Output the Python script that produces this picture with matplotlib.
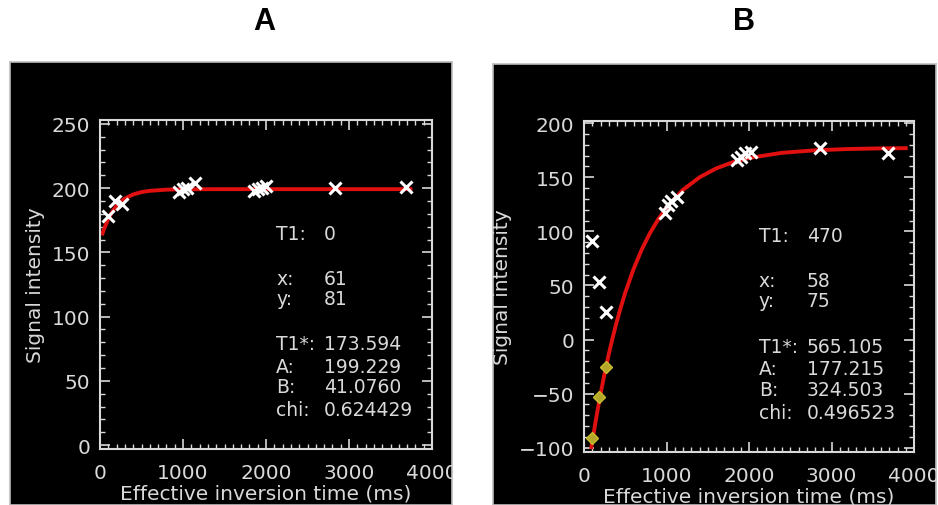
import numpy as np
import matplotlib
matplotlib.use("Agg")
import matplotlib.pyplot as plt
from matplotlib.ticker import MultipleLocator

# ---- panel A : measured points and fitted recovery curve ----
a_pts_t = [100, 180, 260, 950, 1000, 1050, 1150, 1850, 1900, 1950, 2000, 2830, 3690]
a_pts_s = [178, 190, 188, 197, 199, 200, 204, 198, 199, 200, 202, 200, 201]
a_fit_t = [30, 50, 100, 150, 200, 250, 300, 400, 500, 600, 800, 1000, 1500, 2000, 3000, 3740]
a_fit_s = [164.7, 168.4, 176.1, 181.9, 186.3, 189.5, 191.9, 195.1, 196.9, 197.9, 198.8,
           199.1, 199.2, 199.2, 199.2, 199.2]
a_info = [("T1:", "0"), ("x:", "61"), ("y:", "81"),
          ("T1*:", "173.594"), ("A:", "199.229"), ("B:", "41.0760"), ("chi:", "0.624429")]

# ---- panel B ----
b_pts_t = [100, 180, 270, 980, 1020, 1060, 1130, 1850, 1900, 1950, 2020, 2860, 3690]
b_pts_s = [91, 53, 25, 117, 124, 128, 132, 166, 169, 172, 173, 177, 172]
b_neg_t = [100, 180, 270]
b_neg_s = [-91, -53, -25]
b_fit_t = [90, 100, 125, 150, 175, 200, 250, 300, 350, 400, 450, 500, 600, 700, 800, 900,
           1000, 1200, 1400, 1600, 1800, 2000, 2400, 2800, 3200, 3600, 3900]
b_fit_s = [-99.5, -94.7, -82.9, -71.7, -60.9, -50.6, -31.3, -13.6, 2.5, 17.3, 30.8, 43.3,
           65.0, 83.2, 98.4, 111.2, 121.9, 138.4, 149.9, 158.1, 163.8, 167.8, 172.6, 174.9,
           176.1, 176.7, 176.9]
b_info = [("T1:", "470"), ("x:", "58"), ("y:", "75"),
          ("T1*:", "565.105"), ("A:", "177.215"), ("B:", "324.503"), ("chi:", "0.496523")]

# row offsets (axes fraction, downwards) of the info block
info_rows = [0.0, 0.137, 0.198, 0.335, 0.404, 0.465, 0.535]

FG = "#d9d9d9"
W, H = 938, 506

def fr(x0, y0, x1, y1):
    # pixel box -> figure fraction [left, bottom, width, height]
    return [x0 / W, 1 - y1 / H, (x1 - x0) / W, (y1 - y0) / H]

fig = plt.figure(figsize=(9.38, 5.06), dpi=100)
fig.patch.set_facecolor("white")


def panel(bg_box, ax_box, ylim, pts_t, pts_s, fit_t, fit_s, info, info_x, letter, letter_x):
    bg = fig.add_axes(fr(*bg_box))
    bg.set_facecolor("black")
    bg.set_xticks([])
    bg.set_yticks([])
    for s in bg.spines.values():
        s.set_color("#bdbdbd")
        s.set_linewidth(1.2)

    ax = fig.add_axes(fr(*ax_box))
    ax.set_facecolor("black")
    ax.set_xlim(0, 4000)
    ax.set_ylim(*ylim)
    ax.xaxis.set_major_locator(MultipleLocator(1000))
    ax.xaxis.set_minor_locator(MultipleLocator(100))
    ax.yaxis.set_major_locator(MultipleLocator(50))
    ax.yaxis.set_minor_locator(MultipleLocator(10))
    ax.tick_params(which="both", direction="in", top=True, right=True, colors=FG,
                   labelcolor=FG, labelsize=14.5)
    ax.tick_params(which="major", length=7, width=1.2)
    ax.tick_params(axis="x", which="major", pad=10)
    ax.tick_params(axis="y", which="major", pad=7)
    ax.tick_params(which="minor", length=3.5, width=1.0)
    for s in ax.spines.values():
        s.set_color(FG)
        s.set_linewidth(1.5)
    ax.set_xlabel("Effective inversion time (ms)", color=FG, fontsize=14.5, labelpad=1)
    ax.set_ylabel("Signal intensity", color=FG, fontsize=14.5, labelpad=5)

    ax.plot(fit_t, fit_s, color="#e01010", lw=2.8, zorder=2)
    ax.plot(pts_t, pts_s, "x", color="white", ms=8, mew=2.2, zorder=3)

    for (k, v), dy in zip(info, info_rows):
        ax.text(info_x, 0.655 - dy, k, transform=ax.transAxes, color=FG,
                fontsize=13.5, va="center")
        ax.text(info_x + 0.145, 0.655 - dy, v, transform=ax.transAxes, color=FG,
                fontsize=13.5, va="center")

    # text running past the black panel is cut off at its edge
    for lab in ax.get_xticklabels() + [ax.yaxis.label]:
        lab.set_clip_on(True)
        lab.set_clip_box(bg.bbox)

    fig.text(letter_x / W, 1 - 22 / H, letter, ha="center", va="center",
             fontsize=22, fontweight="bold", family="Liberation Sans")
    return ax


axA = panel((10, 63, 452, 506), (100, 121, 432, 450), (-3, 253),
            a_pts_t, a_pts_s, a_fit_t, a_fit_s, a_info, 0.53, "A", 264)

axB = panel((493, 65, 936, 506), (584, 122, 914, 453), (-104, 202),
            b_pts_t, b_pts_s, b_fit_t, b_fit_s, b_info, 0.53, "B", 744)
axB.plot(b_neg_t, b_neg_s, "D", color="#b3a82a", ms=6, mec="#c8bc30", mew=1.0, zorder=3)

fig.savefig("out.png", dpi=100, facecolor="white")
